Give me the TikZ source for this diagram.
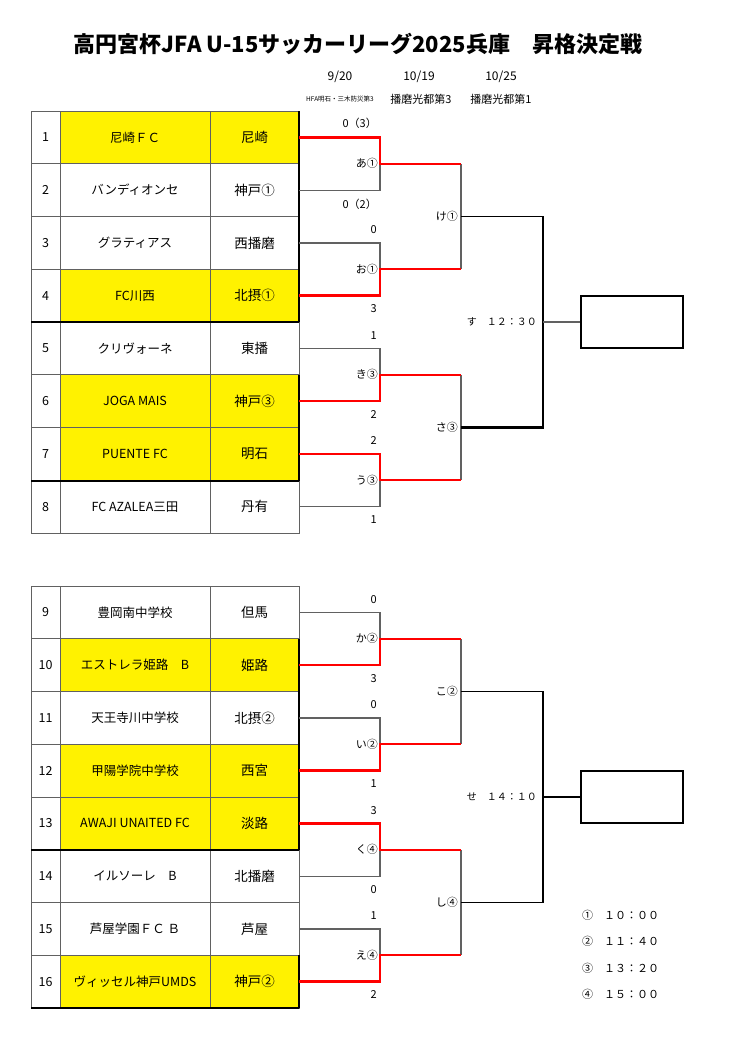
\documentclass[tikz,border=0pt]{standalone}
\usepackage{fontspec}
\setmainfont{Noto Sans CJK JP}
\usetikzlibrary{positioning}

\tikzset{
  win/.style={draw=red, line width=2.4pt, line join=miter},
  lose/.style={draw=black!62, line width=1.2pt},
  fin/.style={draw=black, line width=1.2pt},
  cell/.style={draw=black!62, line width=0.9pt},
  heavy/.style={draw=black, line width=2pt},
  score/.style={font=\fontsize{11}{11}\selectfont, inner sep=1pt},
  rlab/.style={font=\fontsize{11}{11}\selectfont, inner sep=1pt},
  champ/.style={draw=black, line width=2.2pt, minimum width=102pt, minimum height=52pt, inner sep=0pt},
}

\NewDocumentCommand{\teamrow}{mmmmO{white}}{%
\begin{scope}[shift={(31,#2)}]%
\path[fill=#5] (29,0) rectangle (268,52.75);
\draw[cell] (0,0) rectangle (268,52.75);
\draw[cell] (29,0) -- (29,52.75) (179,0) -- (179,52.75);
\node[font=\fontsize{12.5}{12.5}\selectfont] (n#1) at (14.5,26.4) {#1};
\node[font=\fontsize{12.5}{12.5}\selectfont] (name#1) at (104,26.4) {#3};
\node[font=\fontsize{13.5}{13.5}\selectfont] (area#1) at (223.5,26.4) {#4};
\coordinate (t#1) at (268,26.4);
\coordinate (c#1) at (349,26.4);
\end{scope}%
}

\begin{document}
\begin{tikzpicture}[x=1pt, y=-1pt]
\useasboundingbox (0,0) rectangle (738,1063);

\node[font=\fontsize{22}{22}\selectfont\bfseries] (title) at (358,44) {高円宮杯JFA U-15サッカーリーグ2025兵庫　昇格決定戦};
\node[font=\fontsize{12}{12}\selectfont] (d1) at (340,77) {9/20};
\node[font=\fontsize{12}{12}\selectfont] (d2) at (419,77) {10/19};
\node[font=\fontsize{12}{12}\selectfont] (d3) at (501,77) {10/25};
\node[font=\fontsize{6.5}{6.5}\selectfont] (v1) at (340,99) {HFA明石・三木防災第3};
\node[font=\fontsize{11}{11}\selectfont] (v2) at (421,99) {播磨光都第3};
\node[font=\fontsize{11}{11}\selectfont] (v3) at (501,99) {播磨光都第1};

\foreach \i/\nm/\ar/\fl in {1/尼崎ＦＣ/尼崎/yellow, 2/バンディオンセ/神戸①/white,
    3/グラティアス/西播磨/white, 4/FC川西/北摂①/yellow, 5/クリヴォーネ/東播/white,
    6/JOGA MAIS/神戸③/yellow, 7/PUENTE FC/明石/yellow, 8/FC AZALEA三田/丹有/white,
    9/豊岡南中学校/但馬/white, 10/エストレラ姫路　B/姫路/yellow, 11/天王寺川中学校/北摂②/white,
    12/甲陽学院中学校/西宮/yellow, 13/AWAJI UNAITED FC/淡路/yellow, 14/イルソーレ　B/北播磨/white,
    15/芦屋学園ＦＣ Ｂ/芦屋/white, 16/ヴィッセル神戸UMDS/神戸②/yellow}{
  \pgfmathsetmacro{\ytop}{\i<9 ? 111+(\i-1)*52.75 : 586+(\i-9)*52.75}
  \teamrow{\i}{\ytop}{\nm}{\ar}[\fl]
}

% heavy rules of the tables
\draw[heavy] (31,322) -- (299,322) (31,481) -- (299,481) (31,850) -- (299,850) (31,1008) -- (299,1008);
\draw[heavy] (299,111) -- (299,322) (299,375) -- (299,481) (299,639) -- (299,850) (299,955) -- (299,1008);

% match points
\coordinate (mA) at (380,163.75);
\coordinate (mO) at (380,269.25);
\coordinate (mKi) at (380,374.75);
\coordinate (mU) at (380,480.25);
\coordinate (mKa) at (380,638.75);
\coordinate (mI) at (380,744.25);
\coordinate (mKu) at (380,849.75);
\coordinate (mE) at (380,955.25);
\coordinate (mKe) at (461,216.5);
\coordinate (mSa) at (461,427.5);
\coordinate (mKo) at (461,691.5);
\coordinate (mShi) at (461,902.5);
\coordinate (mSu) at (543,322);
\coordinate (mSe) at (543,797);
\node[champ] (champ1) at (632,322) {};
\node[champ] (champ2) at (632,797) {};

\foreach \a/\b/\k in {mA/mO/mKe, mKi/mU/mSa, mKa/mI/mKo, mKu/mE/mShi}
  \draw[lose] (\a -| \k) -- (\b -| \k);

\foreach \w/\l/\m/\k in {1/2/mA/mKe, 4/3/mO/mKe, 6/5/mKi/mSa, 7/8/mU/mSa,
    10/9/mKa/mKo, 12/11/mI/mKo, 13/14/mKu/mShi, 16/15/mE/mShi}{
  \draw[lose] (t\l) -- (c\l) -- (\m);
  \draw[win] (t\w) -- (c\w) -- (\m) -- (\m -| \k);
}

\draw[fin] (mKe) -| (mSu);
\draw[fin, line width=2.2pt] (mSa) -| (mSu);
\draw[fin] (mKo) -| (mSe);
\draw[fin] (mShi) -| (mSe);
\draw[lose] (mSu) -- (champ1);
\draw[fin] (mSe) -- (champ2);

% scores
\foreach \i/\s in {1/0（3）, 3/0, 5/1, 7/2, 9/0, 11/0, 13/3, 15/1}
  \node[score, above left=8pt and 2pt of c\i] (s\i) {\s};
\foreach \i/\s in {2/0（2）, 4/3, 6/2, 8/1, 10/3, 12/1, 14/0, 16/2}
  \node[score, below left=8pt and 2pt of c\i] (s\i) {\s};

% match labels
\foreach \m/\t in {mA/あ①, mO/お①, mKi/き③, mU/う③, mKa/か②, mI/い②, mKu/く④, mE/え④}
  \node[rlab, left=1pt of \m] (l\m) {\t};
\foreach \m/\t in {mKe/け①, mSa/さ③, mKo/こ②, mShi/し④}
  \node[rlab, left=2pt of \m] (l\m) {\t};
\node[rlab, font=\fontsize{10}{10}\selectfont, left=5pt of mSu] (lSu) {す　１２：３０};
\node[rlab, font=\fontsize{10}{10}\selectfont, left=5pt of mSe] (lSe) {せ　１４：１０};

% kick-off times
\foreach \j/\t in {1/①　１０：００, 2/②　１１：４０, 3/③　１３：２０, 4/④　１５：００}
  \node[rlab, anchor=west, font=\fontsize{11}{11}\selectfont] (k\j) at (581,889+26.4*\j) {\t};
\end{tikzpicture}
\end{document}
